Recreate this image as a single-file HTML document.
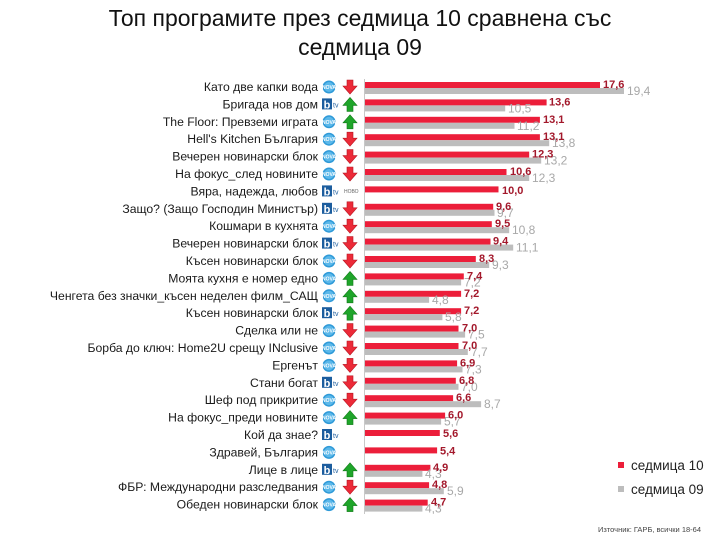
<!DOCTYPE html>
<html><head><meta charset="utf-8"><style>
body{margin:0;background:#fff}
svg{display:block;font-family:"Liberation Sans",sans-serif}
.l{font-size:12.2px;fill:#1a1a1a;text-anchor:end}
.r{font-size:11px;font-weight:bold;fill:#a3182b}
.g{font-size:12px;fill:#a8a8a8}
</style></head><body>
<svg width="720" height="540" viewBox="0 0 720 540">
<defs>
<g id="nova"><circle cx="0" cy="0" r="6.5" fill="#2f9ad8"/><circle cx="0" cy="0" r="5" fill="#5bb8ea"/><text x="0" y="2" font-size="5" fill="#fff" text-anchor="middle" font-weight="bold">NOVA</text></g>
<g id="btv"><rect x="-7" y="-6" width="10" height="11" fill="#1c5d9e"/><text x="-2" y="4" font-size="11" fill="#fff" text-anchor="middle" font-weight="bold">b</text><text x="4" y="3" font-size="7" fill="#1c5d9e">tv</text></g>
<polygon id="dn" points="-3,-7 3,-7 3,-1 7,-1 0,7 -7,-1 -3,-1" fill="#ec2a38" stroke="#b81520" stroke-width="0.6"/>
<polygon id="up" points="-3,7 3,7 3,1 7,1 0,-7 -7,1 -3,1" fill="#1fa52a" stroke="#117a18" stroke-width="0.6"/>
</defs>
<text x="360" y="26" font-size="23" text-anchor="middle" fill="#111">Топ програмите през седмица 10 сравнена със</text>
<text x="360" y="55" font-size="23" text-anchor="middle" fill="#111">седмица 09</text>
<line x1="364.5" y1="79" x2="364.5" y2="514" stroke="#c8c8c8" stroke-width="1"/>

<g fill="#ec1e3a">
<rect x="365" y="82" width="235" height="6"/><rect x="365" y="99.4" width="181.6" height="6"/><rect x="365" y="116.8" width="174.9" height="6"/><rect x="365" y="134.2" width="174.9" height="6"/><rect x="365" y="151.6" width="164.2" height="6"/><rect x="365" y="169" width="141.5" height="6"/><rect x="365" y="186.4" width="133.5" height="6"/><rect x="365" y="203.8" width="128.2" height="6"/><rect x="365" y="221.2" width="126.8" height="6"/><rect x="365" y="238.6" width="125.5" height="6"/><rect x="365" y="256" width="110.8" height="6"/><rect x="365" y="273.4" width="98.8" height="6"/><rect x="365" y="290.8" width="96.1" height="6"/><rect x="365" y="308.2" width="96.1" height="6"/><rect x="365" y="325.6" width="93.5" height="6"/><rect x="365" y="343" width="93.5" height="6"/><rect x="365" y="360.4" width="92.1" height="6"/><rect x="365" y="377.8" width="90.8" height="6"/><rect x="365" y="395.2" width="88.1" height="6"/><rect x="365" y="412.6" width="80.1" height="6"/><rect x="365" y="430" width="74.8" height="6"/><rect x="365" y="447.4" width="72.1" height="6"/><rect x="365" y="464.8" width="65.4" height="6"/><rect x="365" y="482.2" width="64.1" height="6"/><rect x="365" y="499.6" width="62.7" height="6"/>
</g>
<g fill="#bdbdbd">
<rect x="365" y="88" width="259" height="6"/><rect x="365" y="105.4" width="140.2" height="6"/><rect x="365" y="122.8" width="149.5" height="6"/><rect x="365" y="140.2" width="184.2" height="6"/><rect x="365" y="157.6" width="176.2" height="6"/><rect x="365" y="175" width="164.2" height="6"/><rect x="365" y="209.8" width="129.5" height="6"/><rect x="365" y="227.2" width="144.2" height="6"/><rect x="365" y="244.6" width="148.2" height="6"/><rect x="365" y="262" width="124.2" height="6"/><rect x="365" y="279.4" width="96.1" height="6"/><rect x="365" y="296.8" width="64.1" height="6"/><rect x="365" y="314.2" width="77.4" height="6"/><rect x="365" y="331.6" width="100.1" height="6"/><rect x="365" y="349" width="102.8" height="6"/><rect x="365" y="366.4" width="97.5" height="6"/><rect x="365" y="383.8" width="93.5" height="6"/><rect x="365" y="401.2" width="116.1" height="6"/><rect x="365" y="418.6" width="76.1" height="6"/><rect x="365" y="470.8" width="57.4" height="6"/><rect x="365" y="488.2" width="78.8" height="6"/><rect x="365" y="505.6" width="57.4" height="6"/>
</g>

<g class="g">
<text x="627" y="95">19,4</text><text x="508" y="112.4">10,5</text><text x="517" y="129.8">11,2</text><text x="552" y="147.2">13,8</text><text x="544" y="164.6">13,2</text><text x="532" y="182">12,3</text><text x="497" y="216.8">9,7</text><text x="512" y="234.2">10,8</text><text x="516" y="251.6">11,1</text><text x="492" y="269">9,3</text><text x="464" y="286.4">7,2</text><text x="432" y="303.8">4,8</text><text x="445" y="321.2">5,8</text><text x="468" y="338.6">7,5</text><text x="471" y="356">7,7</text><text x="465" y="373.4">7,3</text><text x="461" y="390.8">7,0</text><text x="484" y="408.2">8,7</text><text x="444" y="425.6">5,7</text><text x="425" y="477.8">4,3</text><text x="447" y="495.2">5,9</text><text x="425" y="512.6">4,3</text>
</g>
<g class="r">
<text x="603" y="88">17,6</text><text x="549" y="105.4">13,6</text><text x="543" y="122.8">13,1</text><text x="543" y="140.2">13,1</text><text x="532" y="157.6">12,3</text><text x="510" y="175">10,6</text><text x="502" y="194">10,0</text><text x="496" y="209.8">9,6</text><text x="495" y="227.2">9,5</text><text x="493" y="244.6">9,4</text><text x="479" y="262">8,3</text><text x="467" y="279.4">7,4</text><text x="464" y="296.8">7,2</text><text x="464" y="314.2">7,2</text><text x="462" y="331.6">7,0</text><text x="462" y="349">7,0</text><text x="460" y="366.4">6,9</text><text x="459" y="383.8">6,8</text><text x="456" y="401.2">6,6</text><text x="448" y="418.6">6,0</text><text x="443" y="437">5,6</text><text x="440" y="454.4">5,4</text><text x="433" y="470.8">4,9</text><text x="432" y="488.2">4,8</text><text x="431" y="505.6">4,7</text>
</g>

<g class="l">
<text x="318" y="91">Като две капки вода</text>
<text x="318" y="108.4">Бригада нов дом</text>
<text x="318" y="125.8">The Floor: Превземи играта</text>
<text x="318" y="143.2">Hell's Kitchen България</text>
<text x="318" y="160.6">Вечерен новинарски блок</text>
<text x="318" y="178">На фокус_след новините</text>
<text x="318" y="195.4">Вяра, надежда, любов</text>
<text x="318" y="212.8">Защо? (Защо Господин Министър)</text>
<text x="318" y="230.2">Кошмари в кухнята</text>
<text x="318" y="247.6">Вечерен новинарски блок</text>
<text x="318" y="265">Късен новинарски блок</text>
<text x="318" y="282.4">Моята кухня е номер едно</text>
<text x="318" y="299.8">Ченгета без значки_късен неделен филм_САЩ</text>
<text x="318" y="317.2">Късен новинарски блок</text>
<text x="318" y="334.6">Сделка или не</text>
<text x="318" y="352">Борба до ключ: Home2U срещу INclusive</text>
<text x="318" y="369.4">Ергенът</text>
<text x="318" y="386.8">Стани богат</text>
<text x="318" y="404.2">Шеф под прикритие</text>
<text x="318" y="421.6">На фокус_преди новините</text>
<text x="318" y="439">Кой да знае?</text>
<text x="318" y="456.4">Здравей, България</text>
<text x="318" y="473.8">Лице в лице</text>
<text x="318" y="491.2">ФБР: Международни разследвания</text>
<text x="318" y="508.6">Обеден новинарски блок</text>
</g>

<use href="#nova" x="329" y="87"/><use href="#dn" x="350" y="87"/>
<use href="#btv" x="329" y="104.4"/><use href="#up" x="350" y="104.4"/>
<use href="#nova" x="329" y="121.8"/><use href="#up" x="350" y="121.8"/>
<use href="#nova" x="329" y="139.2"/><use href="#dn" x="350" y="139.2"/>
<use href="#nova" x="329" y="156.6"/><use href="#dn" x="350" y="156.6"/>
<use href="#nova" x="329" y="174"/><use href="#dn" x="350" y="174"/>
<use href="#btv" x="329" y="191.4"/><text x="344" y="193" font-size="5" fill="#666">НОВО</text>
<use href="#btv" x="329" y="208.8"/><use href="#dn" x="350" y="208.8"/>
<use href="#nova" x="329" y="226.2"/><use href="#dn" x="350" y="226.2"/>
<use href="#btv" x="329" y="243.6"/><use href="#dn" x="350" y="243.6"/>
<use href="#nova" x="329" y="261"/><use href="#dn" x="350" y="261"/>
<use href="#nova" x="329" y="278.4"/><use href="#up" x="350" y="278.4"/>
<use href="#nova" x="329" y="295.8"/><use href="#up" x="350" y="295.8"/>
<use href="#btv" x="329" y="313.2"/><use href="#up" x="350" y="313.2"/>
<use href="#nova" x="329" y="330.6"/><use href="#dn" x="350" y="330.6"/>
<use href="#nova" x="329" y="348"/><use href="#dn" x="350" y="348"/>
<use href="#nova" x="329" y="365.4"/><use href="#dn" x="350" y="365.4"/>
<use href="#btv" x="329" y="382.8"/><use href="#dn" x="350" y="382.8"/>
<use href="#nova" x="329" y="400.2"/><use href="#dn" x="350" y="400.2"/>
<use href="#nova" x="329" y="417.6"/><use href="#up" x="350" y="417.6"/>
<use href="#btv" x="329" y="435"/>
<use href="#nova" x="329" y="452.4"/>
<use href="#btv" x="329" y="469.8"/><use href="#up" x="350" y="469.8"/>
<use href="#nova" x="329" y="487.2"/><use href="#dn" x="350" y="487.2"/>
<use href="#nova" x="329" y="504.6"/><use href="#up" x="350" y="504.6"/>

<rect x="618" y="462" width="6" height="6" fill="#ec1e3a"/>
<text x="631" y="470" font-size="13.5" fill="#222">седмица 10</text>
<rect x="618" y="486" width="6" height="6" fill="#bdbdbd"/>
<text x="631" y="494" font-size="13.5" fill="#222">седмица 09</text>
<text x="598" y="532" font-size="7.5" fill="#444">Източник: ГАРБ, всички 18-64</text>
</svg>
</body></html>
